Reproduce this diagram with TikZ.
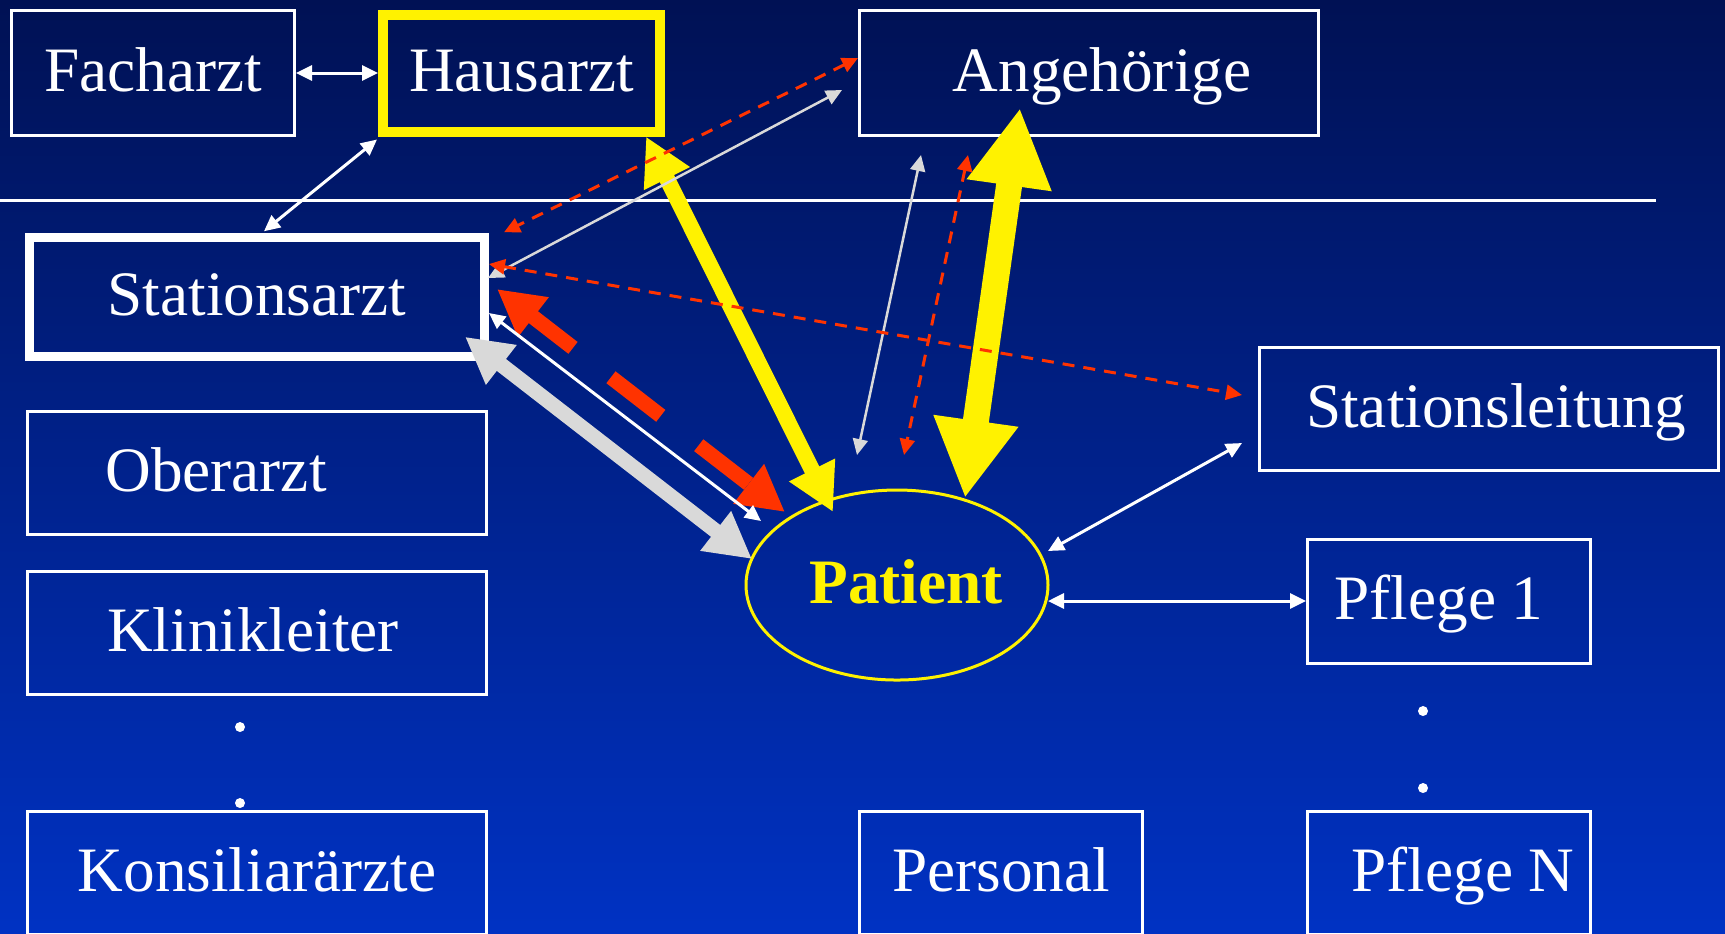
\documentclass[tikz,border=0pt]{standalone}
\usepackage{fontspec}
\setmainfont{Liberation Serif}
\usetikzlibrary{arrows.meta,shapes.geometric}
\definecolor{bgtop}{RGB}{0,17,84}
\definecolor{bgbot}{RGB}{0,50,195}
\definecolor{pfeilrot}{RGB}{255,51,0}
\definecolor{pfeilgrau}{RGB}{217,217,217}

\begin{document}
\begin{tikzpicture}[x=0.1mm, y=-0.1mm,
	box/.style={draw=white, line width=0.3mm, inner sep=0pt, minimum height=12.5mm, text=white, font=\fontsize{18}{20}\selectfont, text height=3.7mm, text depth=0mm},
	schmal/.style={box, minimum width=28.3mm},
	breit/.style={box, minimum width=45.9mm},
	duenn/.style={<->, >={Triangle[length=1.6mm,width=1.5mm]}, line width=0.3mm, white},
	grau/.style={duenn, pfeilgrau, line width=0.25mm},
	rotgestrichelt/.style={duenn, pfeilrot, dash pattern=on 1.2mm off 0.9mm},
	dick/.style={<->, >={Triangle[length=4.6mm,width=4.7mm]}, line width=1.5mm}]
	\useasboundingbox (0,0) rectangle (1725,933);
	\shade[top color=bgtop, bottom color=bgbot] (0,0) rectangle (1725,933);
	\draw[white, line width=0.3mm] (0,200) -- (1656,200);

	\node[schmal] (facharzt) at (153,73) {Facharzt};
	\node[box, draw=yellow, line width=1mm, minimum width=27.7mm, minimum height=11.7mm] (hausarzt) at (521.5,73) {Hausarzt};
	\node[breit] (angehoerige) at (1089,73) {\hspace*{2.6mm}Angehörige};
	\node[box, line width=0.9mm, minimum width=45.5mm, minimum height=11.85mm] (stationsarzt) at (257,297) {Stationsarzt};
	\node[breit, minimum height=12.3mm] (oberarzt) at (257,473) {Oberarzt\hspace*{8.2mm}};
	\node[breit, minimum height=12.3mm] (klinikleiter) at (257,633) {Klinikleiter\hspace*{0.8mm}};
	\node[breit, minimum height=12.3mm] (konsiliar) at (257,873) {Konsiliarärzte};
	\node[breit, minimum height=12.3mm] (stationsleitung) at (1489,409) {\hspace*{1.4mm}Stationsleitung};
	\node[schmal, minimum height=12.4mm] (pflegeeins) at (1449,601) {Pflege 1\hspace*{2mm}};
	\node[schmal, minimum height=12.3mm] (personal) at (1001,873) {Personal};
	\node[schmal, minimum height=12.3mm] (pflegen) at (1449,873) {\hspace*{2.8mm}Pflege N};
	\node[ellipse, draw=yellow, line width=0.3mm, inner sep=0pt, minimum width=30.2mm, minimum height=19mm, text=yellow, font=\bfseries\fontsize{18}{20}\selectfont, text height=3.7mm, text depth=0mm] (patient) at (897,585) {\hspace*{1.8mm}Patient};

	\fill[white] (240,727) circle[radius=0.5mm];
	\fill[white] (240,803) circle[radius=0.5mm];
	\fill[white] (1423,711) circle[radius=0.5mm];
	\fill[white] (1423,788) circle[radius=0.5mm];

	\draw[dick, yellow, line width=1.6mm, >={Triangle[length=4.7mm,width=4.8mm]}] ([shift={(-19,0)}]hausarzt.south east) -- ([shift={(-64,-73)}]patient.center);
	\draw[dick, yellow, line width=2.6mm, >={Triangle[length=7.8mm,width=8mm]}] ([shift={(-69,-29)}]angehoerige.south) -- ([shift={(68,-87)}]patient.center);
	\draw[dick, pfeilrot, dash pattern=on 6.3mm off 4.8mm, dash phase=1mm] ([shift={(8,-8)}]stationsarzt.east) -- ([shift={(-112,-73)}]patient.center);
	\draw[dick, pfeilgrau] ([shift={(-24,-24)}]stationsarzt.south east) -- ([shift={(-145,-26)}]patient.center);

	\draw[duenn] (facharzt) -- (hausarzt);
	\draw[duenn] ([shift={(-1,3)}]hausarzt.south west) -- ([shift={(7,-2)}]stationsarzt.north);
	\draw[rotgestrichelt] ([shift={(0,-15)}]angehoerige.west) -- ([shift={(15,-1)}]stationsarzt.north east);
	\draw[grau] ([shift={(-16,17)}]angehoerige.west) -- ([shift={(-1,-19)}]stationsarzt.east);
	\draw[grau] ([shift={(-168,18)}]angehoerige.south) -- ([shift={(-40,-130)}]patient.center);
	\draw[rotgestrichelt] ([shift={(-121,18)}]angehoerige.south) -- ([shift={(7,-130)}]patient.center);
	\draw[rotgestrichelt] ([shift={(0,-33)}]stationsarzt.east) -- ([shift={(-16,-14)}]stationsleitung.west);
	\draw[duenn] ([shift={(0,16)}]stationsarzt.east) -- ([shift={(-136,-64)}]patient.center);
	\draw[duenn] ([shift={(151,-34)}]patient.center) -- ([shift={(-16,34)}]stationsleitung.west);
	\draw[duenn] ([shift={(151,16)}]patient.center) -- (pflegeeins.west);
\end{tikzpicture}
\end{document}
